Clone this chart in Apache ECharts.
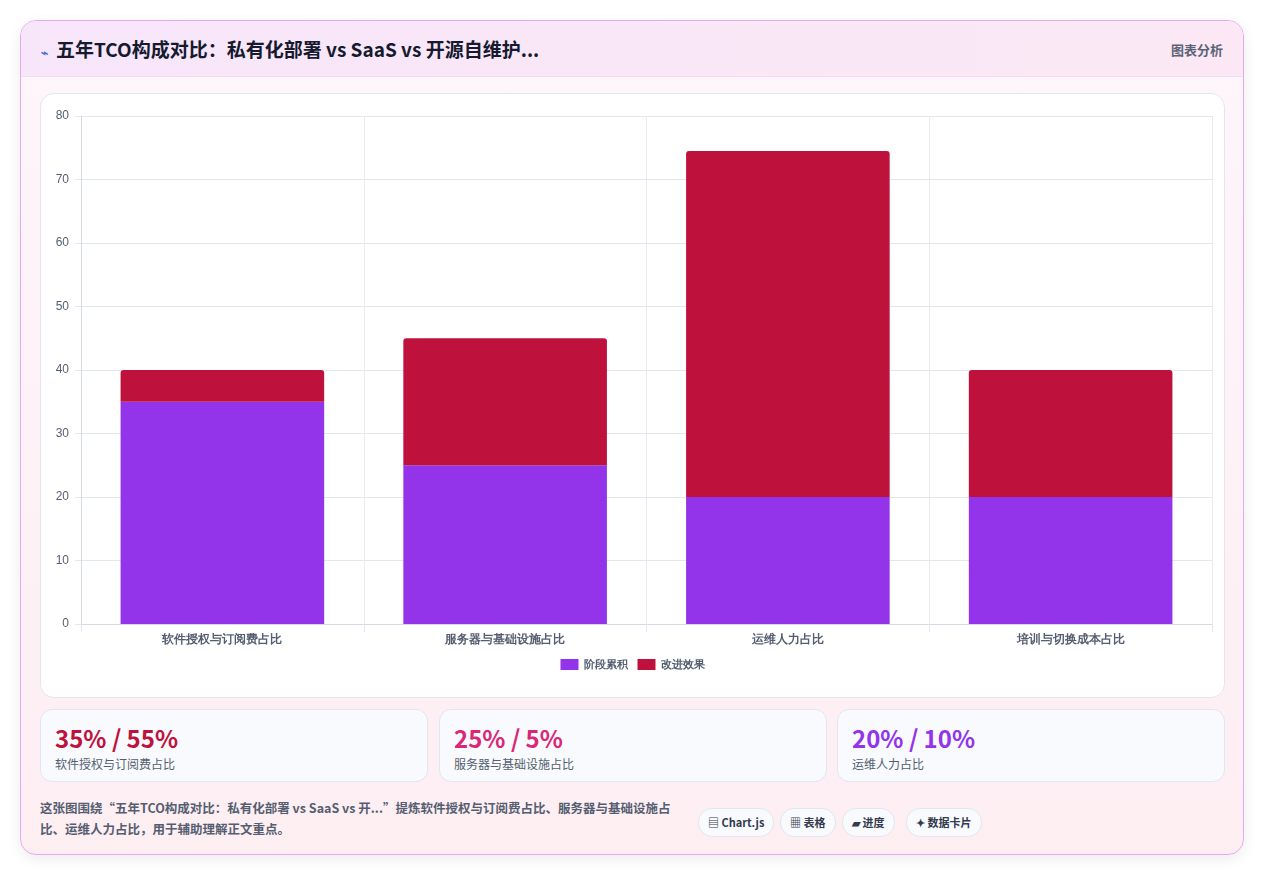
<!DOCTYPE html>
<html><head><meta charset="utf-8">
<script src="https://cdn.jsdelivr.net/npm/echarts@6/dist/echarts.min.js"></script>
<style>
body{margin:0;background:#fff;font-family:"Noto Sans CJK SC","Noto Sans",sans-serif;}
.card{position:absolute;left:20px;top:20px;width:1222px;height:833px;border:1px solid #e6a8f0;border-radius:16px;background:linear-gradient(180deg,#fdf6fb,#fdeef2);box-shadow:0 4px 14px rgba(0,0,0,0.08);overflow:hidden}
.hdr{height:55px;background:linear-gradient(90deg,#f7e6fa,#fbe8f4);border-bottom:1px solid #efdcef;position:relative}
.title{position:absolute;left:20px;top:14px;font-size:19px;font-weight:bold;color:#151a2e}
.title span{color:#4a6ee0;font-size:12px;margin-right:8px}
.hr{position:absolute;right:20px;top:19px;font-size:13px;color:#5b6477;font-weight:bold}
.panel{position:absolute;left:19px;top:72px;width:1183px;height:603px;background:#fff;border:1px solid #ebe2ee;border-radius:14px}
#chart{width:1183px;height:603px}
.kc{position:absolute;top:688px;width:386px;height:71px;background:#f8fafd;border:1px solid #e1e6f0;border-radius:12px}
.kc .v{position:absolute;left:14px;top:10px;font-size:24px;font-weight:bold}
.kc .l{position:absolute;left:14px;top:45px;font-size:12px;color:#555e70}
.desc{position:absolute;left:19px;top:776px;width:650px;font-size:12.5px;line-height:21px;color:#555e70;font-weight:bold}
.tag{position:absolute;top:787px;height:27px;line-height:27px;padding:0 9px;font-size:11px;font-weight:bold;color:#333b4d;background:#f8fafd;border:1px solid #e1e6f0;border-radius:14px}
</style></head><body>
<div class="card">
<div class="hdr"><div class="title"><span>⌁</span>五年TCO构成对比：私有化部署 vs SaaS vs 开源自维护...</div><div class="hr">图表分析</div></div>
<div class="panel"><div id="chart"></div></div>
<div class="kc" style="left:19px"><div class="v" style="color:#be123c">35% / 55%</div><div class="l">软件授权与订阅费占比</div></div>
<div class="kc" style="left:418px"><div class="v" style="color:#db2777">25% / 5%</div><div class="l">服务器与基础设施占比</div></div>
<div class="kc" style="left:816px"><div class="v" style="color:#9333ea">20% / 10%</div><div class="l">运维人力占比</div></div>
<div class="desc">这张图围绕“五年TCO构成对比：私有化部署 vs SaaS vs 开...”提炼软件授权与订阅费占比、服务器与基础设施占比、运维人力占比，用于辅助理解正文重点。</div>
<div class="tag" style="left:677px">▤ Chart.js</div>
<div class="tag" style="left:759px">▦ 表格</div>
<div class="tag" style="left:821px">▰ 进度</div>
<div class="tag" style="left:885px">✦ 数据卡片</div>
</div>
<script>
const categories=["软件授权与订阅费占比","服务器与基础设施占比","运维人力占比","培训与切换成本占比"];
const stageValues=[35,25,20,20];
const improveValues=[5,20,54.5,20];
const seriesNames=["阶段累积","改进效果"];
const chart=echarts.init(document.getElementById('chart'));
chart.setOption({
animation:false,
grid:{left:40,right:12,top:22,bottom:73},
legend:{bottom:22,itemWidth:18,itemHeight:11,itemGap:10,icon:'rect',textStyle:{fontSize:11,color:'#555e70',fontWeight:'bold'},data:seriesNames},
xAxis:{type:'category',data:categories,axisLine:{lineStyle:{color:'#d5dbe3'}},axisTick:{show:true,length:8,lineStyle:{color:'#e3e7ec'}},splitLine:{show:true,lineStyle:{color:'#e8ecf0'}},axisLabel:{color:'#555e70',fontSize:12,fontWeight:'bold',margin:10}},
yAxis:{type:'value',min:0,max:80,interval:10,axisLine:{show:true,lineStyle:{color:'#d5dbe3'}},axisTick:{show:true,length:6,lineStyle:{color:'#e3e7ec'}},splitLine:{lineStyle:{color:'#e3e7ec'}},axisLabel:{color:'#555e70',fontSize:12,margin:12}},
series:[
{name:seriesNames[0],type:'bar',stack:'a',data:stageValues,barWidth:'72%',itemStyle:{color:'#9333ea'}},
{name:seriesNames[1],type:'bar',stack:'a',data:improveValues,itemStyle:{color:'#be123c',borderRadius:[3,3,0,0]}}
]});
</script>
</body></html>
